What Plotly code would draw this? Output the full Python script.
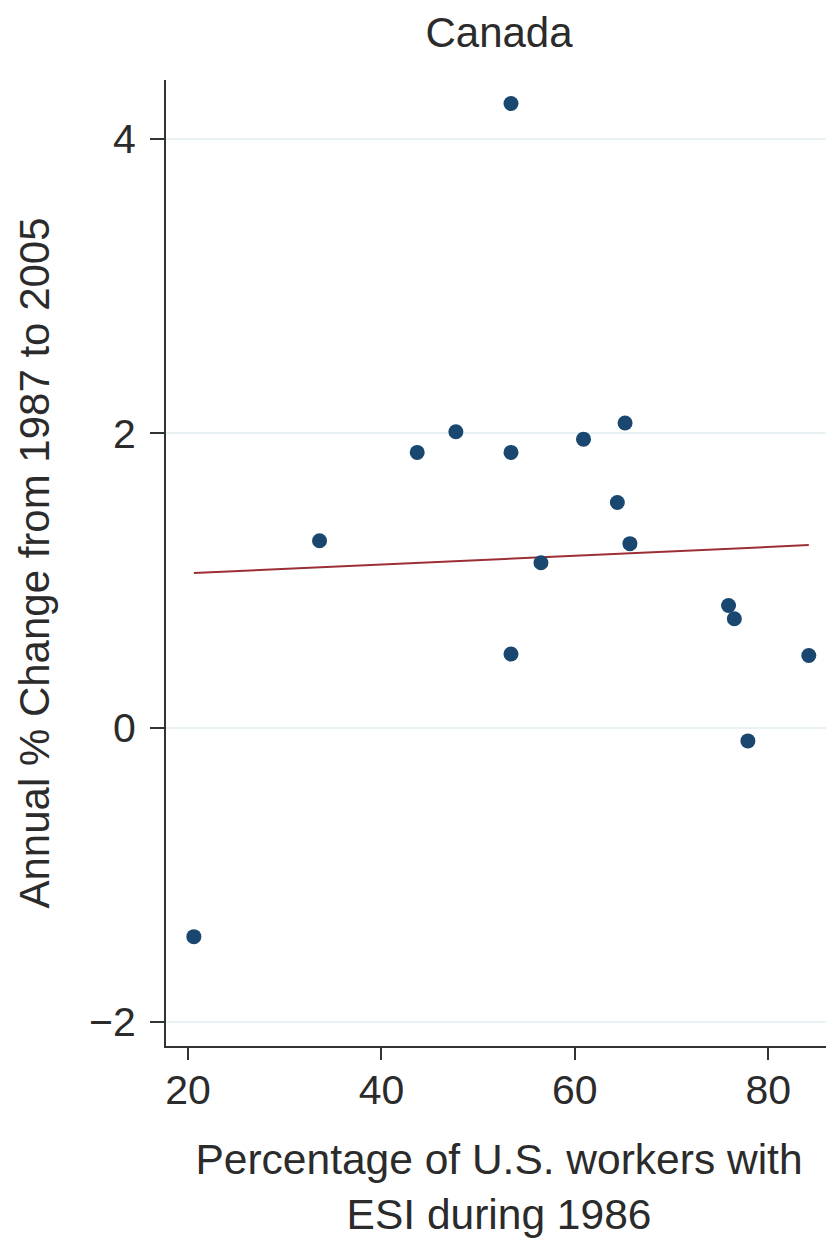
import plotly.graph_objects as go

# Data
esi_pct = [20.6, 33.6, 43.7, 47.7, 53.4, 53.4, 53.4, 56.5, 60.9, 64.4, 65.2, 65.7, 75.9, 76.5, 77.9, 84.2]
annual_change = [-1.42, 1.27, 1.87, 2.01, 4.24, 1.87, 0.50, 1.12, 1.96, 1.53, 2.07, 1.25, 0.83, 0.74, -0.09, 0.49]
fit_x = [20.6, 84.2]
fit_y = [1.05, 1.24]
x_ticks = [20, 40, 60, 80]
y_ticks = [-2, 0, 2, 4]

FONT = "Liberation Sans, Arial, Helvetica, sans-serif"
TXT = "#2b2b2b"

W, H = 826, 1232  # page body has an 8px margin

fig = go.Figure()
fig.add_trace(go.Scatter(
    x=fit_x, y=fit_y, mode="lines",
    line=dict(color="#9b2f35", width=2),
    showlegend=False, hoverinfo="skip",
))
fig.add_trace(go.Scatter(
    x=esi_pct, y=annual_change, mode="markers",
    marker=dict(color="#1a476f", size=15, line=dict(width=0)),
    showlegend=False,
))

fig.update_layout(
    width=W, height=H,
    margin=dict(l=158, r=2, t=72, b=194),
    paper_bgcolor="white", plot_bgcolor="white",
    font=dict(family=FONT, color=TXT),
    title=dict(text="Canada", x=0.5, xref="paper", xanchor="center",
               y=1 - 24 / H, yref="container", yanchor="middle",
               font=dict(size=42, color=TXT, family=FONT)),
    xaxis=dict(
        range=[17.72, 86.6], tickvals=x_ticks,
        ticks="outside", ticklen=12, tickwidth=2, tickcolor="#333",
        showline=True, linecolor="#333", linewidth=2,
        showgrid=False, zeroline=False,
        ticklabelstandoff=-5,
        tickfont=dict(size=41, family=FONT, color=TXT),
        title=dict(text="Percentage of U.S. workers with<br>ESI during 1986",
                   font=dict(size=42.5, family=FONT, color=TXT), standoff=32),
    ),
    yaxis=dict(
        range=[-2.163, 4.40], tickvals=y_ticks,
        ticks="outside", ticklen=14, tickwidth=2, tickcolor="#333",
        showline=True, linecolor="#333", linewidth=2,
        showgrid=True, gridcolor="#e8f1f3", gridwidth=2, zeroline=False,
        ticklabelstandoff=6,
        tickfont=dict(size=41, family=FONT, color=TXT),
        title=dict(text="Annual % Change from 1987 to 2005",
                   font=dict(size=42, family=FONT, color=TXT), standoff=26),
    ),
)

fig.write_html("out.html")
